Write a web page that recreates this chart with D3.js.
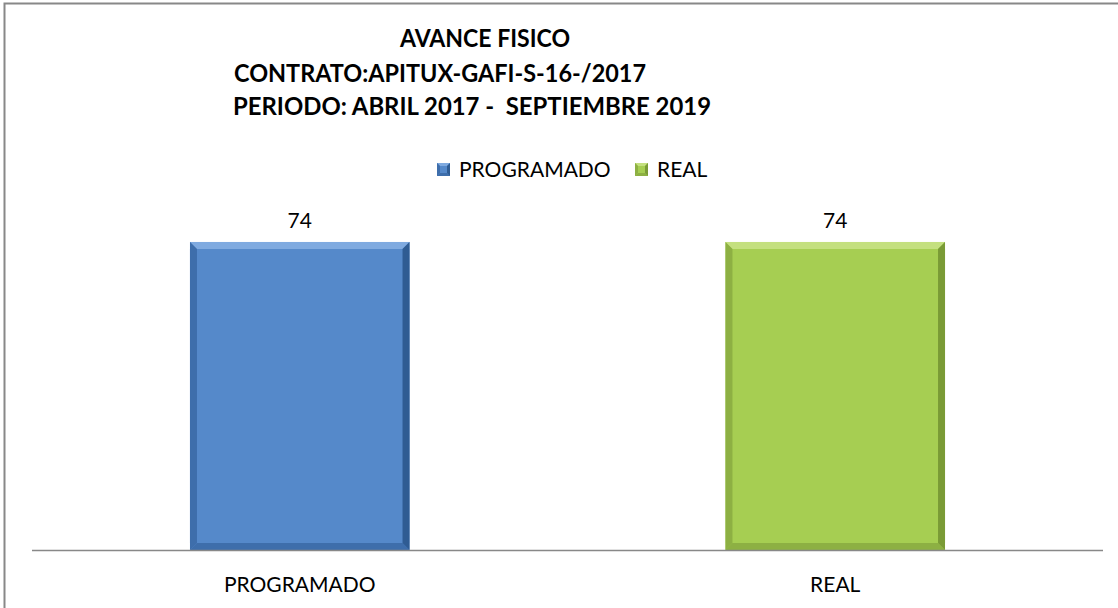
<!DOCTYPE html>
<html>
<head>
<meta charset="utf-8">
<script src="https://cdn.jsdelivr.net/npm/d3@7"></script>
<style>
  body { margin: 0; background: #fff; }
  text { font-family: "Lato", "Liberation Sans", sans-serif; fill: #000; }
</style>
</head>
<body>
<svg id="chart"></svg>
<script>
// datos
const categories = ["PROGRAMADO", "REAL"];
const values = [74, 74];
const titleLines = ["AVANCE FISICO", "CONTRATO:APITUX-GAFI-S-16-/2017", "PERIODO: ABRIL 2017 -  SEPTIEMBRE 2019"];
const yDomain = [0, 80];

const width = 1118, height = 608;
const colors = {
  PROGRAMADO: { base: "#5589CA", light: "#7FAAE0", dark: "#2F5C93", side: "#3E6EAB" },
  REAL: { base: "#A6CE52", light: "#C4E07F", dark: "#7A9B36", side: "#8DB043" }
};

const svg = d3.select("#chart").attr("width", width).attr("height", height);

// marco
svg.append("rect")
  .attr("x", 4.5).attr("y", 3.5)
  .attr("width", width + 10).attr("height", height + 10)
  .attr("fill", "none").attr("stroke", "#888").attr("stroke-width", 2);

// titulo
const titleX = [400, 234, 233];
const titleY = [47, 82, 115];
const titleW = [170, 412, 478];
svg.selectAll(".title")
  .data(titleLines)
  .enter().append("text")
  .attr("class", "title")
  .attr("x", (d, i) => titleX[i])
  .attr("y", (d, i) => titleY[i])
  .attr("font-size", 24)
  .attr("font-weight", "bold")
  .attr("textLength", (d, i) => titleW[i])
  .attr("lengthAdjust", "spacingAndGlyphs")
  .style("white-space", "pre")
  .text(d => d);

// escalas
const x = d3.scaleBand().domain(categories).range([32, 1103]).paddingInner(0.59).paddingOuter(0.295);
const y = d3.scaleLinear().domain(yDomain).range([550, 217]);

// barra con bisel
function bevelBar(g, x0, y0, w, h, c, b) {
  g.append("rect").attr("x", x0).attr("y", y0).attr("width", w).attr("height", h).attr("fill", c.base);
  // arriba
  g.append("polygon")
    .attr("points", [[x0, y0], [x0 + w, y0], [x0 + w - b, y0 + b], [x0 + b, y0 + b]].join(" "))
    .attr("fill", c.light);
  // abajo
  g.append("polygon")
    .attr("points", [[x0, y0 + h], [x0 + w, y0 + h], [x0 + w - b, y0 + h - b], [x0 + b, y0 + h - b]].join(" "))
    .attr("fill", c.side);
  // izquierda
  g.append("polygon")
    .attr("points", [[x0, y0], [x0 + b, y0 + b], [x0 + b, y0 + h - b], [x0, y0 + h]].join(" "))
    .attr("fill", c.side);
  // derecha
  g.append("polygon")
    .attr("points", [[x0 + w, y0], [x0 + w - b, y0 + b], [x0 + w - b, y0 + h - b], [x0 + w, y0 + h]].join(" "))
    .attr("fill", c.dark);
}

const bars = svg.append("g");
categories.forEach((cat, i) => {
  const g = bars.append("g").attr("class", "bar");
  bevelBar(g, x(cat), y(values[i]), x.bandwidth(), y(0) - y(values[i]), colors[cat], 7);
});

// etiquetas de valor
svg.selectAll(".val")
  .data(values)
  .enter().append("text")
  .attr("class", "val")
  .attr("x", (d, i) => x(categories[i]) + x.bandwidth() / 2)
  .attr("y", d => y(d) - 14)
  .attr("text-anchor", "middle")
  .attr("font-size", 21)
  .text(d => d);

// eje x
svg.append("line")
  .attr("x1", 32).attr("x2", 1103)
  .attr("y1", 550.5).attr("y2", 550.5)
  .attr("stroke", "#888").attr("stroke-width", 1.5);

svg.selectAll(".cat")
  .data(categories)
  .enter().append("text")
  .attr("class", "cat")
  .attr("x", d => x(d) + x.bandwidth() / 2)
  .attr("y", 592)
  .attr("text-anchor", "middle")
  .attr("font-size", 21)
  .text(d => d);

// leyenda
const legendX = [437, 635];
const legend = svg.append("g");
categories.forEach((cat, i) => {
  const g = legend.append("g");
  bevelBar(g, legendX[i], 163, 13, 13, colors[cat], 3);
  g.append("text")
    .attr("x", legendX[i] + 22)
    .attr("y", 177)
    .attr("font-size", 21)
    .text(cat);
});
</script>
</body>
</html>
